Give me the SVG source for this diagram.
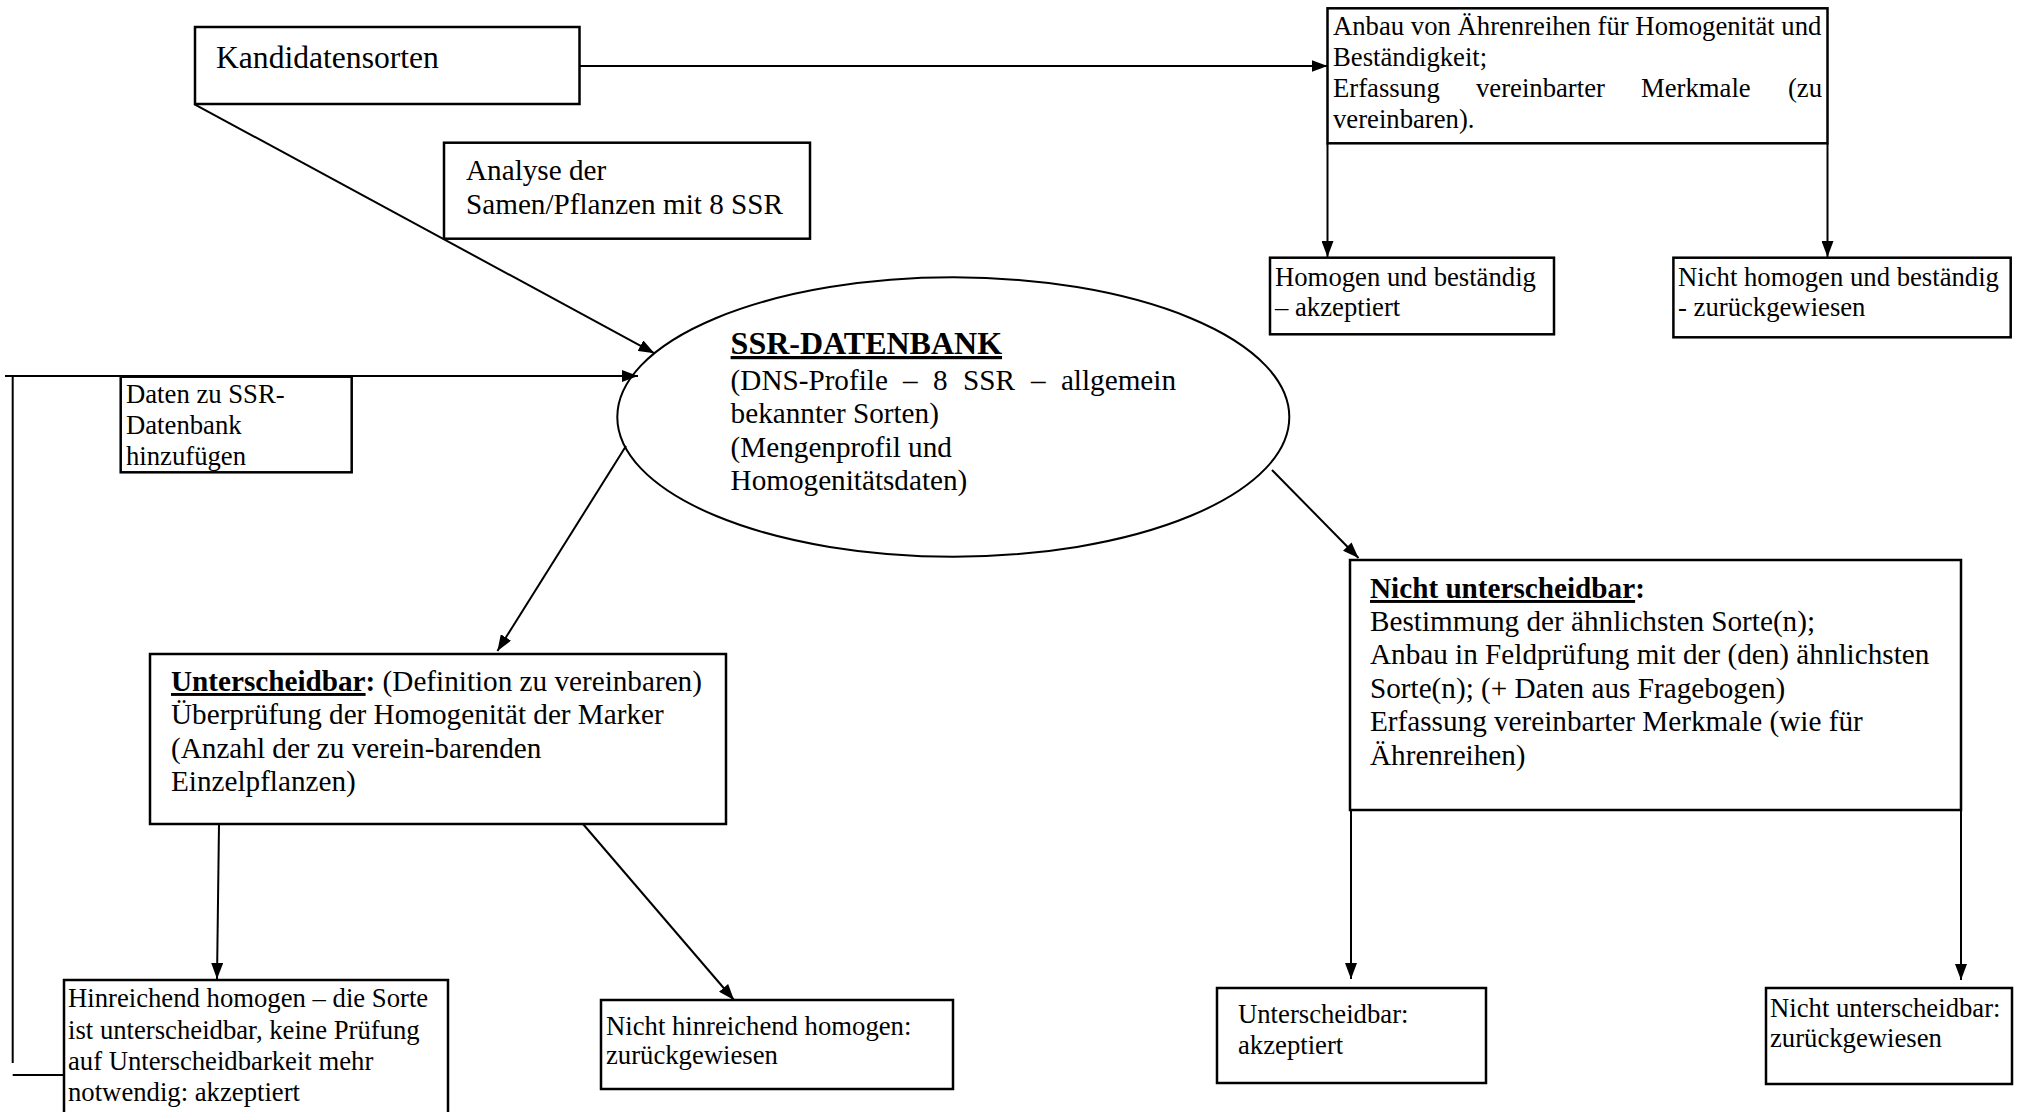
<svg xmlns="http://www.w3.org/2000/svg" width="2022" height="1112" viewBox="0 0 2022 1112">
<style>
.box{fill:#fff;stroke:#000;stroke-width:2.5}
.el{fill:#fff;stroke:#000;stroke-width:2}
.t{font-family:"Liberation Serif","Times New Roman",serif;fill:#000}
.f12{font-size:29.2px}
.f11{font-size:26.7px}
.f13{font-size:31.6px}
.b{font-weight:bold}
.u{text-decoration:underline}
.c{fill:none;stroke:#000;stroke-width:2}
.a{marker-end:url(#arr)}
</style>
<defs>
<marker id="arr" markerUnits="userSpaceOnUse" viewBox="0 0 16 12" refX="16" refY="6" markerWidth="16" markerHeight="12" orient="auto"><path d="M0,0L16,6L0,12z" fill="#000"/></marker>
</defs>
<rect width="2022" height="1112" fill="#fff"/>

<g id="n-kandidatensorten">
<rect class="box" x="195" y="27" width="384.5" height="77"/>
<text class="t f13" x="216" y="68">Kandidatensorten</text>
</g>

<g id="n-analyse">
<rect class="box" x="444" y="142.7" width="366" height="96"/>
<text class="t f12" x="466" y="180">Analyse der</text>
<text class="t f12" x="466" y="214">Samen/Pflanzen mit 8 SSR</text>
</g>

<g id="n-anbau">
<rect class="box" x="1327.5" y="8.3" width="500" height="135"/>
<text class="t f11" x="1333" y="35">Anbau von Ährenreihen für Homogenität und</text>
<text class="t f11" x="1333" y="66">Beständigkeit;</text>
<text class="t f11" y="97"><tspan x="1333">Erfassung</tspan><tspan x="1476">vereinbarter</tspan><tspan x="1641">Merkmale</tspan><tspan x="1822" text-anchor="end">(zu</tspan></text>
<text class="t f11" x="1333" y="128">vereinbaren).</text>
</g>

<g id="n-homogen">
<rect class="box" x="1270" y="257.7" width="284" height="76.6"/>
<text class="t f11" x="1275" y="286">Homogen und beständig</text>
<text class="t f11" x="1275" y="316">– akzeptiert</text>
</g>

<g id="n-nicht-homogen">
<rect class="box" x="1673.4" y="257.7" width="337.3" height="79.6"/>
<text class="t f11" x="1678" y="286">Nicht homogen und beständig</text>
<text class="t f11" x="1678" y="316">- zurückgewiesen</text>
</g>

<g id="n-ssr-datenbank">
<ellipse class="el" cx="953.3" cy="417" rx="336" ry="139.7"/>
<text class="t b u" x="730.6" y="354" font-size="32">SSR-DATENBANK</text>
<text class="t f12" y="390"><tspan x="730.6">(DNS-Profile</tspan><tspan x="903">–</tspan><tspan x="933">8</tspan><tspan x="963">SSR</tspan><tspan x="1031">–</tspan><tspan x="1176" text-anchor="end">allgemein</tspan></text>
<text class="t f12" x="730.6" y="423">bekannter Sorten)</text>
<text class="t f12" x="730.6" y="457">(Mengenprofil und</text>
<text class="t f12" x="730.6" y="490">Homogenitätsdaten)</text>
</g>

<g id="n-daten">
<rect class="box" x="120.7" y="376.7" width="231" height="95.6"/>
<text class="t f11" x="126" y="403">Daten zu SSR-</text>
<text class="t f11" x="126" y="434">Datenbank</text>
<text class="t f11" x="126" y="465">hinzufügen</text>
</g>

<g id="n-unterscheidbar">
<rect class="box" x="150" y="654" width="576" height="170"/>
<text class="t f12" x="171" y="691"><tspan class="b u">Unterscheidbar</tspan><tspan class="b">:</tspan> (Definition zu vereinbaren)</text>
<text class="t f12" x="171" y="724">Überprüfung der Homogenität der Marker</text>
<text class="t f12" x="171" y="758">(Anzahl der zu verein-barenden</text>
<text class="t f12" x="171" y="791">Einzelpflanzen)</text>
</g>

<g id="n-nicht-unterscheidbar">
<rect class="box" x="1350" y="560" width="611" height="250"/>
<text class="t f12" x="1370" y="598"><tspan class="b u">Nicht unterscheidbar</tspan><tspan class="b">:</tspan></text>
<text class="t f12" x="1370" y="631">Bestimmung der ähnlichsten Sorte(n);</text>
<text class="t f12" x="1370" y="664">Anbau in Feldprüfung mit der (den) ähnlichsten</text>
<text class="t f12" x="1370" y="698">Sorte(n); (+ Daten aus Fragebogen)</text>
<text class="t f12" x="1370" y="731">Erfassung vereinbarter Merkmale (wie für</text>
<text class="t f12" x="1370" y="765">Ährenreihen)</text>
</g>

<g id="n-hinreichend">
<rect class="box" x="64" y="980" width="384" height="140"/>
<text class="t f11" x="68" y="1007">Hinreichend homogen – die Sorte</text>
<text class="t f11" x="68" y="1039">ist unterscheidbar, keine Prüfung</text>
<text class="t f11" x="68" y="1070">auf Unterscheidbarkeit mehr</text>
<text class="t f11" x="68" y="1101">notwendig: akzeptiert</text>
</g>

<g id="n-nicht-hinreichend">
<rect class="box" x="601" y="1000" width="352" height="89"/>
<text class="t f11" x="606" y="1035">Nicht hinreichend homogen:</text>
<text class="t f11" x="606" y="1064">zurückgewiesen</text>
</g>

<g id="n-unterscheidbar-akzeptiert">
<rect class="box" x="1217" y="988" width="269" height="95"/>
<text class="t f11" x="1238" y="1023">Unterscheidbar:</text>
<text class="t f11" x="1238" y="1054">akzeptiert</text>
</g>

<g id="n-nicht-unterscheidbar-zurueck">
<rect class="box" x="1766" y="988" width="246" height="96"/>
<text class="t f11" x="1770" y="1017">Nicht unterscheidbar:</text>
<text class="t f11" x="1770" y="1047">zurückgewiesen</text>
</g>

<g id="connectors">
<path class="c a" d="M579.5,66H1327.5"/>
<path class="c a" d="M194.6,104.3L654.5,353.3"/>
<path class="c a" d="M1327.5,143.3V257"/>
<path class="c a" d="M1827.5,143.3V257"/>
<path class="c a" d="M626,446L497.4,651"/>
<path class="c a" d="M1272,470L1358.5,558"/>
<path class="c a" d="M5,376H638"/>
<path class="c" d="M12.7,376V1063"/>
<path class="c" d="M12.7,1075H64"/>
<path class="c a" d="M219,824L217,979"/>
<path class="c a" d="M583,824L734,1000"/>
<path class="c a" d="M1351,810V979"/>
<path class="c a" d="M1961,810V980"/>
</g>
</svg>
